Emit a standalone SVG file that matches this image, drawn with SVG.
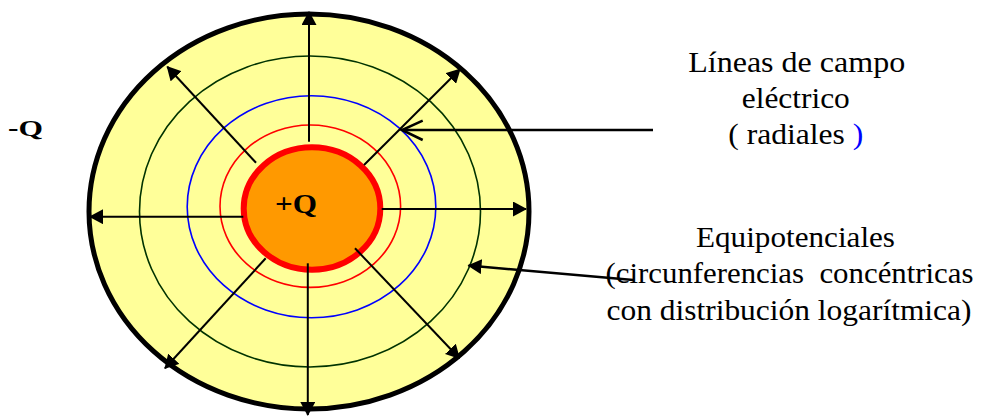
<svg xmlns="http://www.w3.org/2000/svg" width="997" height="417" viewBox="0 0 997 417">
<style>
  .ray { stroke: #000; stroke-width: 2; fill: none; marker-end: url(#tip); }
  .ring { fill: none; }
  text { font-family: 'Liberation Serif', 'DejaVu Serif', 'Times New Roman', serif; fill: #000; }
</style>
<defs>
  <marker id="tip" viewBox="0 0 14 15" refX="13" refY="7.5" markerWidth="14" markerHeight="15" markerUnits="userSpaceOnUse" orient="auto">
    <path d="M0,0 L14,7.5 L0,15 z" fill="#000"/>
  </marker>
</defs>
<rect width="997" height="417" fill="#fff"/>
<g id="outer-sphere">
  <ellipse cx="309" cy="211.5" rx="220" ry="197.5" fill="#FFFF99" stroke="#000" stroke-width="5"/>
</g>
<g id="equipotentials">
  <ellipse class="ring" cx="310" cy="211.5" rx="170.5" ry="155.5" stroke="#003300" stroke-width="1.6"/>
  <ellipse class="ring" cx="311.5" cy="206.7" rx="124.3" ry="111" stroke="#0000FF" stroke-width="1.6"/>
  <ellipse class="ring" cx="310.3" cy="206.2" rx="90.3" ry="81.2" stroke="#FF0000" stroke-width="1.6"/>
</g>
<g id="inner-charge">
  <ellipse cx="312" cy="208.5" rx="68.3" ry="61.2" fill="#FF9900" stroke="#FF0000" stroke-width="6"/>
  <text x="275" y="213" font-weight="bold" font-size="27" textLength="42" lengthAdjust="spacingAndGlyphs">+Q</text>
</g>
<g id="outer-charge-label">
  <text x="8" y="136" font-weight="bold" font-size="23" textLength="35" lengthAdjust="spacingAndGlyphs">-Q</text>
</g>
<g id="connectors">
  <line class="ray" x1="309" y1="141.7" x2="309" y2="12"/>
  <line class="ray" x1="381.7" y1="209" x2="526" y2="209"/>
  <line class="ray" x1="243.3" y1="216.7" x2="90" y2="216.7"/>
  <line class="ray" x1="307.8" y1="263.3" x2="307.8" y2="415"/>
  <line class="ray" x1="256" y1="162.7" x2="167.3" y2="66.7"/>
  <line class="ray" x1="364" y1="165" x2="460" y2="69.3"/>
  <line class="ray" x1="265.7" y1="258.3" x2="165" y2="368.3"/>
  <line class="ray" x1="355" y1="248.3" x2="459.3" y2="358.3"/>
  <g id="pointer-field-lines" stroke="#000" stroke-width="2.5" fill="none">
    <line x1="653" y1="130" x2="402" y2="130"/>
    <polyline points="422.7,120.7 402,130 422.7,140"/>
  </g>
  <line id="pointer-equipotentials" x1="633.3" y1="280" x2="468.5" y2="265.5" stroke="#000" stroke-width="2.5" marker-end="url(#tip)"/>
</g>
<g id="label-field-lines" font-size="30" text-anchor="middle">
  <text x="796.7" y="72" textLength="217" lengthAdjust="spacingAndGlyphs">Líneas de campo</text>
  <text x="795.8" y="108" textLength="108" lengthAdjust="spacingAndGlyphs">eléctrico</text>
  <text x="795.8" y="144" textLength="135" lengthAdjust="spacingAndGlyphs">( radiales <tspan fill="#0000FF">)</tspan></text>
</g>
<g id="label-equipotentials" font-size="30" text-anchor="middle">
  <text x="795.5" y="247" textLength="199" lengthAdjust="spacingAndGlyphs">Equipotenciales</text>
  <text x="789.5" y="283" textLength="368" lengthAdjust="spacingAndGlyphs" xml:space="preserve">(circunferencias  concéntricas</text>
  <text x="789" y="320" textLength="365" lengthAdjust="spacingAndGlyphs">con distribución logarítmica)</text>
</g>
</svg>
